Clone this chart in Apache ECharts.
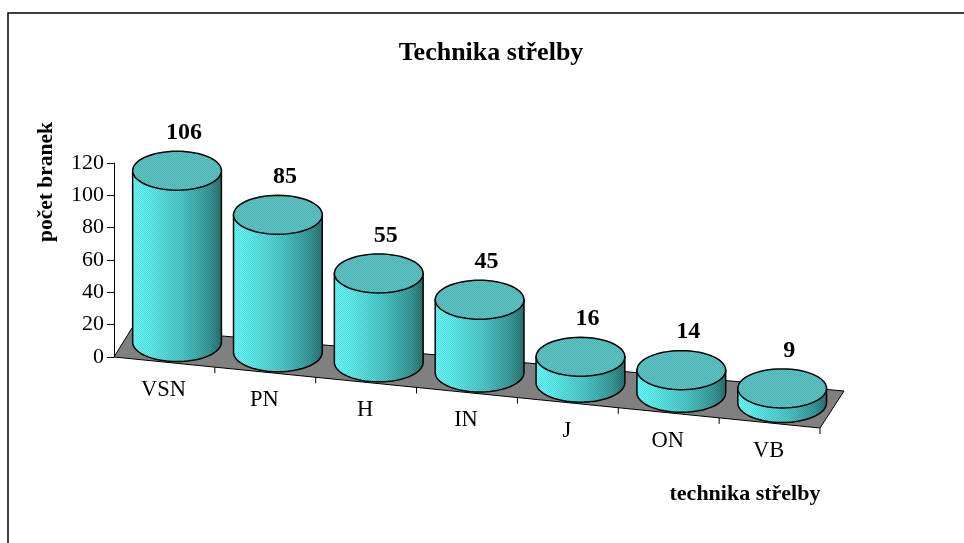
<!DOCTYPE html>
<html>
<head>
<meta charset="utf-8">
<title>Technika střelby</title>
<script src="https://cdn.jsdelivr.net/npm/echarts@6/dist/echarts.min.js"></script>
<style>
  html, body { margin: 0; padding: 0; background: #fff; }
  #chart { width: 964px; height: 543px; }
</style>
</head>
<body>
<div id="chart"></div>
<script>
// data
var categories = ['VSN', 'PN', 'H', 'IN', 'J', 'ON', 'VB'];
var values = [106, 85, 55, 45, 16, 14, 9];
var yMin = 0, yMax = 120, yStep = 20;

var titleText = 'Technika střelby';
var yName = 'počet branek';
var xName = 'technika střelby';

(function () {
  var myChart = echarts.init(document.getElementById('chart'));

  // perspective of the floor: front edge drops this many px per px to the right
  var SLOPE = 0.1006;
  var FONT = '"Liberation Serif", "Times New Roman", serif';

  // small checker pattern to imitate the dithered fill
  var pat = document.createElement('canvas');
  pat.width = 2; pat.height = 2;
  var pctx = pat.getContext('2d');
  pctx.fillStyle = 'rgba(0,40,40,0.16)';
  pctx.fillRect(0, 0, 1, 1);
  pctx.fillRect(1, 1, 1, 1);

  function ellipsePts(cx, cy, rx, ry, a0, a1, n) {
    var pts = [];
    for (var k = 0; k <= n; k++) {
      var t = a0 + (a1 - a0) * k / n;
      pts.push([cx + rx * Math.cos(t), cy + ry * Math.sin(t)]);
    }
    return pts;
  }

  // floor + ticks on its front edge
  function renderFloor(params, api) {
    var band = api.size([1, 0])[0];
    var c0 = api.coord([0, 0]);
    var left = c0[0] - band / 2;
    var right = left + band * categories.length;
    var y0 = c0[1];
    var fl = [left, y0];
    var fr = [right, y0 + SLOPE * (right - left)];
    var br = [fr[0] + 24, fr[1] - 37];
    var bl = [left + 18, y0 - 29];
    var children = [{
      type: 'polygon',
      shape: { points: [fl, fr, br, bl] },
      style: { fill: '#808080', stroke: '#000', lineWidth: 1 }
    }];
    for (var k = 1; k <= categories.length; k++) {
      var tx = left + band * k;
      var ty = y0 + SLOPE * (tx - left);
      children.push({
        type: 'line',
        shape: { x1: tx, y1: ty, x2: tx, y2: ty + 6 },
        style: { stroke: '#000', lineWidth: 1 }
      });
    }
    return { type: 'group', children: children };
  }

  function renderCylinder(params, api) {
    var i = api.value(0);
    var v = api.value(1);
    var band = api.size([1, 0])[0];
    var left = api.coord([0, 0])[0] - band / 2;
    var base = api.coord([i, 0]);
    var top = api.coord([i, v]);
    var frontY = base[1] + SLOPE * (base[0] - left);
    var cx = base[0] + band * 0.125;
    var by = frontY - 20;
    var ty = by - (base[1] - top[1]);
    var rx = band * 0.44, ry = 19.5;

    var body = [[cx - rx, ty]].concat(
      ellipsePts(cx, by, rx, ry, Math.PI, 0, 40),
      [[cx + rx, ty]]
    );
    var lid = ellipsePts(cx, ty, rx, ry, 0, Math.PI * 2, 60);

    return {
      type: 'group',
      children: [
        {
          type: 'polygon',
          shape: { points: body },
          style: {
            fill: {
              type: 'linear', x: 0, y: 0, x2: 1, y2: 0,
              colorStops: [
                { offset: 0, color: '#6cffff' },
                { offset: 0.2, color: '#60f2f2' },
                { offset: 0.55, color: '#4fcccc' },
                { offset: 0.85, color: '#3a9c9c' },
                { offset: 1, color: '#2a7070' }
              ]
            },
            stroke: '#000', lineWidth: 1.5
          }
        },
        {
          type: 'polygon',
          silent: true,
          shape: { points: body },
          style: { fill: { image: pat, repeat: 'repeat' } }
        },
        {
          type: 'polygon',
          shape: { points: lid },
          style: { fill: '#5ec8c8', stroke: '#000', lineWidth: 1.5 }
        },
        {
          type: 'polygon',
          silent: true,
          shape: { points: lid },
          style: { fill: { image: pat, repeat: 'repeat' } }
        },
        {
          type: 'text',
          style: {
            x: cx + 7, y: ty - 38,
            text: String(v),
            align: 'center', verticalAlign: 'middle',
            font: 'bold 24px ' + FONT, fill: '#000'
          }
        },
        {
          type: 'text',
          style: {
            x: base[0] - 1, y: frontY + 28,
            text: categories[i],
            align: 'center', verticalAlign: 'middle',
            font: '22.5px ' + FONT, fill: '#000'
          }
        }
      ]
    };
  }

  var option = {
    backgroundColor: '#fff',
    animation: false,
    grid: { left: 114, right: 144, top: 163, bottom: 186 },
    xAxis: {
      type: 'category',
      data: categories,
      show: false
    },
    yAxis: {
      type: 'value',
      min: yMin, max: yMax, interval: yStep,
      axisLine: { show: true, lineStyle: { color: '#000', width: 1 } },
      axisTick: { show: true, length: 7, lineStyle: { color: '#000' } },
      axisLabel: { color: '#000', fontFamily: FONT, fontSize: 22, margin: 10 },
      splitLine: { show: false }
    },
    graphic: [
      {
        type: 'rect',
        shape: { x: 8, y: 13, width: 1000, height: 600 },
        style: { fill: 'none', stroke: '#000', lineWidth: 1.5 },
        silent: true
      },
      {
        type: 'text',
        x: 491, y: 53,
        style: {
          text: titleText, align: 'center', verticalAlign: 'middle',
          font: 'bold 26px ' + FONT, fill: '#000'
        }
      },
      {
        type: 'text',
        x: 46, y: 182,
        rotation: Math.PI / 2,
        style: {
          text: yName, align: 'center', verticalAlign: 'middle',
          font: 'bold 21.5px ' + FONT, fill: '#000'
        }
      },
      {
        type: 'text',
        x: 745, y: 494,
        style: {
          text: xName, align: 'center', verticalAlign: 'middle',
          font: 'bold 22px ' + FONT, fill: '#000'
        }
      }
    ],
    series: [
      {
        name: 'floor',
        type: 'custom',
        renderItem: renderFloor,
        data: [[0, 0]],
        encode: { x: 0, y: 1 },
        silent: true,
        z: 1
      },
      {
        name: 'počet branek',
        type: 'custom',
        renderItem: renderCylinder,
        data: categories.map(function (c, i) { return [i, values[i]]; }),
        encode: { x: 0, y: 1 },
        z: 2
      }
    ]
  };

  myChart.setOption(option);
  window.addEventListener('resize', function () {
    myChart.resize();
  });
})();
</script>
</body>
</html>
